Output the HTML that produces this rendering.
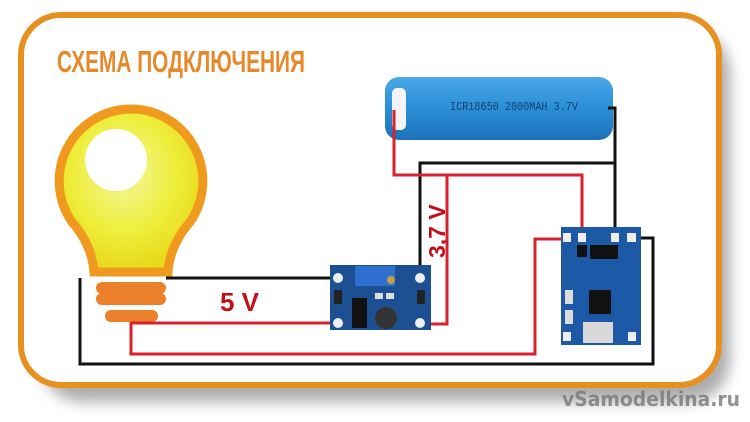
<!DOCTYPE html>
<html><head><meta charset="utf-8"><style>
html,body{margin:0;padding:0;background:#fff;}
svg{display:block;}
</style></head><body>
<svg width="750" height="422" viewBox="0 0 750 422" xmlns="http://www.w3.org/2000/svg">
<defs>
<radialGradient id="bulb" cx="0.45" cy="0.4" r="0.6">
<stop offset="0" stop-color="#f4f7a0"/><stop offset="0.6" stop-color="#eeee3a"/><stop offset="1" stop-color="#e8d81a"/>
</radialGradient>
<linearGradient id="bat" x1="0" y1="0" x2="0" y2="1">
<stop offset="0" stop-color="#4aa8e8"/><stop offset="0.5" stop-color="#2a8fd6"/><stop offset="1" stop-color="#1c72b8"/>
</linearGradient>
<filter id="sh" x="-10%" y="-10%" width="130%" height="140%"><feGaussianBlur stdDeviation="7"/></filter>
</defs>
<rect x="40" y="30" width="690" height="372" rx="42" fill="#999" filter="url(#sh)" opacity="0.8"/>
<rect x="21" y="15" width="698" height="370" rx="40" fill="#fff" stroke="#e8901f" stroke-width="6"/>
<text x="57" y="72" font-family="Liberation Sans, sans-serif" font-weight="bold" font-size="31" fill="#e8882a" textLength="248" lengthAdjust="spacingAndGlyphs">СХЕМА ПОДКЛЮЧЕНИЯ</text>

<path d="M131 109 A72 72 0 0 1 190 222 Q170 245 168 272 L94 272 Q92 245 72 222 A72 72 0 0 1 131 109 Z" fill="url(#bulb)" stroke="#ef9a1e" stroke-width="9"/>
<circle cx="116" cy="160" r="31" fill="#fff"/>
<rect x="96" y="282" width="70" height="12" rx="6" fill="#ec7f2a"/>
<rect x="96" y="293" width="70" height="12" rx="6" fill="#ec7f2a"/>
<rect x="105" y="310" width="53" height="12" rx="6" fill="#ec7f2a"/>

<rect x="385" y="77" width="228" height="63" rx="14" fill="url(#bat)"/>
<rect x="392" y="88" width="14" height="42" rx="5" fill="#f4f4f4"/>
<text x="450" y="110" font-family="Liberation Mono, monospace" font-size="12" fill="#163f70" textLength="128" lengthAdjust="spacingAndGlyphs">ICR18650 2000MAH 3.7V</text>

<g fill="none" stroke-width="3">
<polyline points="80,278 80,364 653,364 653,238 633,238" stroke="#111"/>
<polyline points="166,278 338,278" stroke="#111"/>
<polyline points="131,322 131,354 535,354 535,239 566,239" stroke="#d9202c"/>
<polyline points="131,323 338,323" stroke="#d9202c"/>
<polyline points="420,278 420,163 615,163" stroke="#111"/>
<polyline points="608,108 615,108 615,238" stroke="#111"/>
<polyline points="394,110 394,175 582,175 582,238" stroke="#d9202c"/>
<polyline points="447,175 447,324 422,324" stroke="#d9202c"/>
</g>

<rect x="330" y="265" width="101" height="65" fill="#1d4f93"/>
<rect x="355" y="266" width="40" height="20" fill="#2e6fd0"/>
<circle cx="391" cy="280" r="4" fill="#c8a040"/>
<rect x="352" y="298" width="15" height="30" fill="#111"/>
<circle cx="386" cy="318" r="11" fill="#333"/>
<rect x="375" y="293" width="8" height="6" fill="#ddd"/><rect x="386" y="293" width="8" height="6" fill="#ddd"/>
<rect x="334" y="290" width="8" height="14" fill="#222"/><rect x="417" y="290" width="8" height="14" fill="#222"/>
<circle cx="338" cy="278" r="5" fill="#eee"/><circle cx="338" cy="323" r="5" fill="#eee"/>
<circle cx="420" cy="278" r="5" fill="#eee"/><circle cx="420" cy="323" r="5" fill="#eee"/>

<rect x="561" y="227" width="80" height="118" fill="#1c5aa8"/>
<rect x="590" y="245" width="28" height="14" fill="#111"/>
<rect x="577" y="245" width="10" height="12" fill="#111"/>
<rect x="589" y="290" width="22" height="24" fill="#111"/>
<rect x="565" y="290" width="8" height="14" fill="#ddd"/>
<rect x="565" y="310" width="8" height="14" fill="#ddd"/>
<rect x="583" y="322" width="30" height="21" fill="#d8d8d8"/>
<rect x="563" y="233" width="8" height="9" fill="#eee"/><rect x="578" y="233" width="8" height="9" fill="#eee"/>
<rect x="611" y="233" width="8" height="9" fill="#eee"/><rect x="627" y="233" width="9" height="9" fill="#eee"/>
<rect x="563" y="332" width="8" height="9" fill="#eee"/><rect x="628" y="332" width="8" height="9" fill="#eee"/>

<text x="220" y="311" font-family="Liberation Sans, sans-serif" font-weight="bold" font-size="26" fill="#c01018">5 V</text>
<text transform="translate(445,258) rotate(-90)" font-family="Liberation Sans, sans-serif" font-weight="bold" font-size="23" fill="#c01018">3,7 V</text>
<text x="562" y="406" font-family="DejaVu Sans, sans-serif" font-weight="bold" font-size="20" fill="#777" opacity="0.8" textLength="178" lengthAdjust="spacingAndGlyphs">vSamodelkina.ru</text>
</svg>
</body></html>
